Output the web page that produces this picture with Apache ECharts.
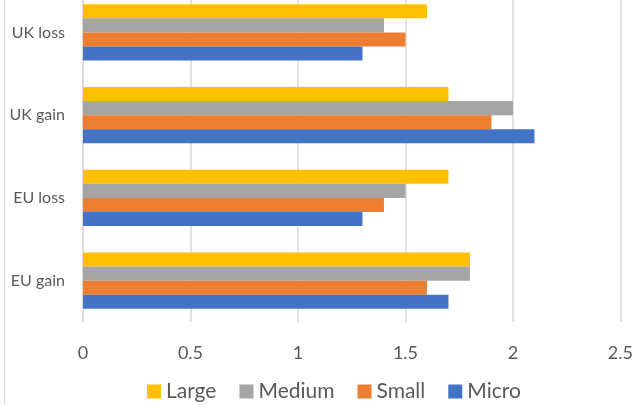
<!DOCTYPE html>
<html>
<head>
<meta charset="utf-8">
<script src="https://cdn.jsdelivr.net/npm/echarts@6/dist/echarts.min.js"></script>
<style>
  html, body { margin: 0; padding: 0; background: #fff; overflow: hidden; }
  /* plot area starts above the visible top edge, as in the original */
  #main { position: absolute; left: 0; top: -9px; width: 636px; height: 414px; }
</style>
</head>
<body>
<div id="main"></div>
<script>
// categories bottom -> top
var categories = ['EU gain', 'EU loss', 'UK gain', 'UK loss'];
var micro  = [1.7, 1.3, 2.1, 1.3];
var small  = [1.6, 1.4, 1.9, 1.5];
var medium = [1.8, 1.5, 2.0, 1.4];
var large  = [1.8, 1.7, 1.7, 1.6];
var xTicks = [0, 0.5, 1, 1.5, 2, 2.5];
var legendOrder = ['Large', 'Medium', 'Small', 'Micro'];

var myChart = echarts.init(document.getElementById('main'));
var font = 'Lato, "Liberation Sans", sans-serif';

function bar(name, data, color) {
    return {
        name: name,
        type: 'bar',
        data: data,
        barGap: '0%',
        barCategoryGap: '32%',
        itemStyle: { color: color },
        emphasis: { disabled: true }
    };
}

var option = {
    animation: false,
    textStyle: { fontFamily: font },
    graphic: [{
        type: 'line',
        shape: { x1: 4.5, y1: 0, x2: 4.5, y2: 414 },
        style: { stroke: '#d9d9d9', lineWidth: 1 }
    }],
    legend: {
        data: legendOrder,
        top: 385,
        left: 142,
        itemWidth: 14,
        itemHeight: 14,
        itemGap: 23,
        icon: 'rect',
        textStyle: { fontSize: 21, color: '#595959', fontFamily: font }
    },
    grid: { left: 83, right: 14, top: 0, bottom: 83 },
    xAxis: {
        type: 'value',
        min: xTicks[0],
        max: xTicks[xTicks.length - 1],
        interval: 0.5,
        axisLine: { show: false },
        axisTick: { show: false },
        axisLabel: { fontSize: 18, color: '#595959', margin: 22 },
        splitLine: { lineStyle: { color: '#d9d9d9', width: 1.5 } }
    },
    yAxis: {
        type: 'category',
        data: categories,
        axisLine: { lineStyle: { color: '#d9d9d9', width: 1.5 } },
        axisTick: { show: false },
        axisLabel: { fontSize: 16, color: '#595959', margin: 18 }
    },
    // first series is drawn at the top of each group
    series: [
        bar('Large', large, '#FFC000'),
        bar('Medium', medium, '#A5A5A5'),
        bar('Small', small, '#ED7D31'),
        bar('Micro', micro, '#4472C4')
    ]
};
myChart.setOption(option);
</script>
</body>
</html>
